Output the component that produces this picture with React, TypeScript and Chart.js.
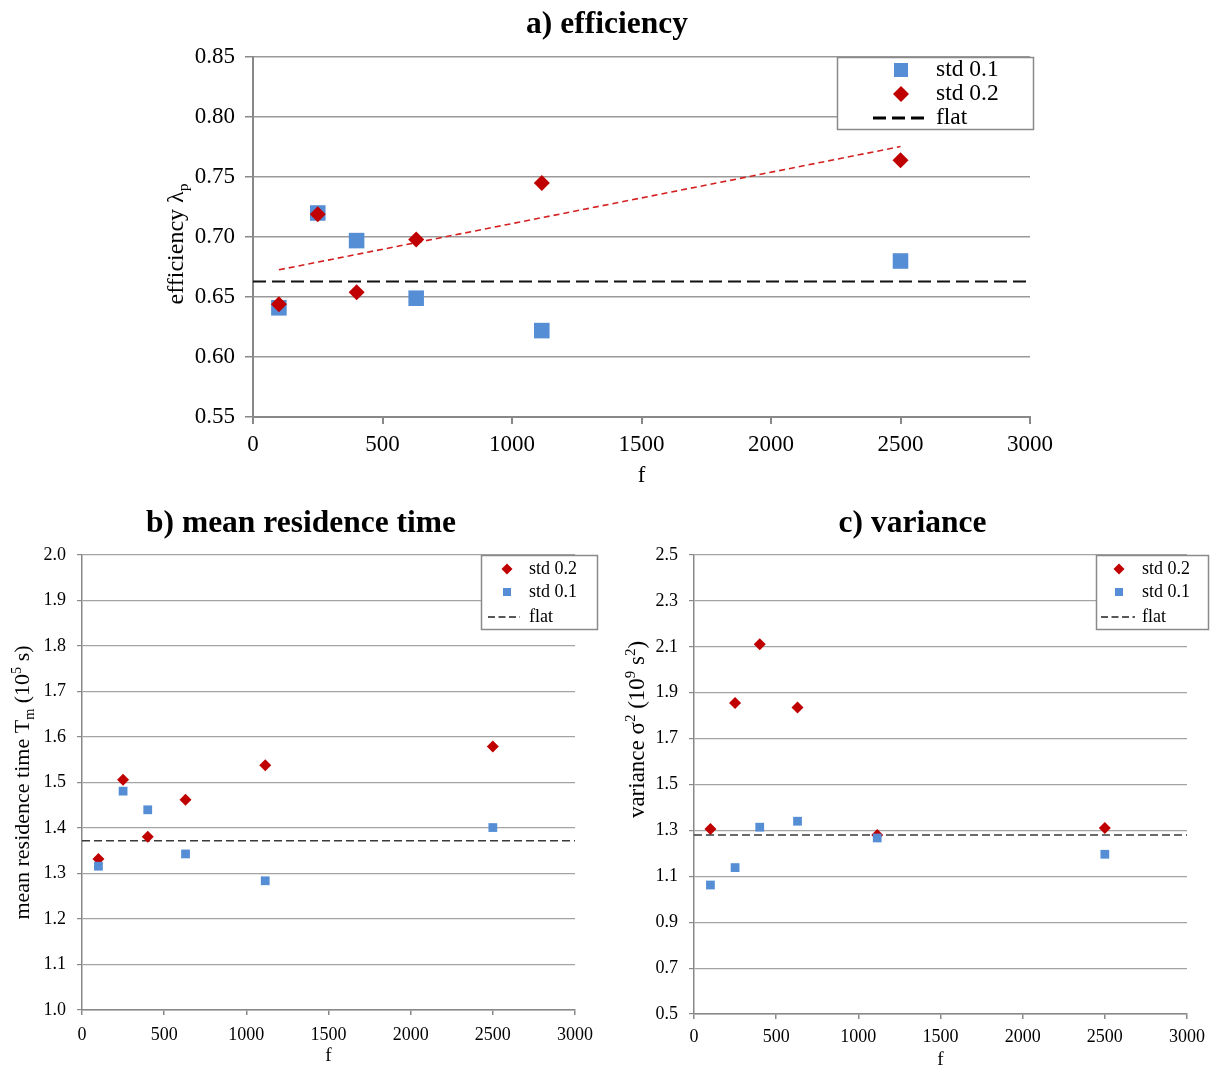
import React, { useEffect, useRef } from 'react';
import { Chart, registerables } from 'chart.js';
import type { ChartConfiguration, Plugin } from 'chart.js';

Chart.register(...registerables);

const SERIF = '"Liberation Serif", "Times New Roman", Times, serif';
const BLUE = '#558ED5';
const RED = '#C00000';
const TREND_RED = '#D42020';

// Flow rate f shared by all three panels
const fValues = [100, 250, 400, 630, 1115, 2500];
const fTicks = [0, 500, 1000, 1500, 2000, 2500, 3000];

// a) efficiency
const effStd01 = [0.641, 0.720, 0.697, 0.649, 0.622, 0.680];
const effStd02 = [0.644, 0.719, 0.654, 0.698, 0.745, 0.764];
const effFlat = 0.663;
const effTicks = [0.55, 0.6, 0.65, 0.7, 0.75, 0.8, 0.85];

// b) mean residence time (10^5 s)
const mrtStd02 = [1.332, 1.506, 1.381, 1.462, 1.538, 1.579];
const mrtStd01 = [1.316, 1.481, 1.440, 1.343, 1.284, 1.401];
const mrtFlat = 1.372;
const mrtTicks = [1.0, 1.1, 1.2, 1.3, 1.4, 1.5, 1.6, 1.7, 1.8, 1.9, 2.0];

// c) variance (10^9 s^2)
const varStd02 = [1.306, 1.855, 2.111, 1.835, 1.280, 1.310];
const varStd01 = [1.062, 1.138, 1.314, 1.340, 1.267, 1.196];
const varFlat = 1.280;
const varTicks = [0.5, 0.7, 0.9, 1.1, 1.3, 1.5, 1.7, 1.9, 2.1, 2.3, 2.5];

const pts = (xs: number[], ys: number[]) => xs.map((x, i) => ({ x, y: ys[i] }));

// least-squares straight line through a series
function linearFit(xs: number[], ys: number[]) {
  const n = xs.length;
  const mx = xs.reduce((a, b) => a + b, 0) / n;
  const my = ys.reduce((a, b) => a + b, 0) / n;
  let sxy = 0;
  let sxx = 0;
  for (let i = 0; i < n; i++) {
    sxy += (xs[i] - mx) * (ys[i] - my);
    sxx += (xs[i] - mx) * (xs[i] - mx);
  }
  const slope = sxy / sxx;
  return (x: number) => my + slope * (x - mx);
}

type Seg = { t: string; s?: 'sub' | 'sup' };

// rotated axis title with sub/superscripts
function richYTitle(segs: Seg[], x: number, yOffset: number, size: number): Plugin {
  return {
    id: 'richYTitle',
    afterDraw(chart) {
      const { ctx, chartArea } = chart;
      const cy = (chartArea.top + chartArea.bottom) / 2 + yOffset;
      ctx.save();
      ctx.translate(x, cy);
      ctx.rotate(-Math.PI / 2);
      const pieces = segs.map((sg) => {
        const fs = sg.s ? size * 0.65 : size;
        ctx.font = `${fs}px ${SERIF}`;
        return { ...sg, fs, w: ctx.measureText(sg.t).width };
      });
      const total = pieces.reduce((a, p) => a + p.w, 0);
      let cx = -total / 2;
      ctx.fillStyle = '#000';
      ctx.textBaseline = 'alphabetic';
      const base = size * 0.33;
      for (const p of pieces) {
        ctx.font = `${p.fs}px ${SERIF}`;
        const dy = p.s === 'sub' ? size * 0.2 : p.s === 'sup' ? -size * 0.38 : 0;
        ctx.fillText(p.t, cx, base + dy);
        cx += p.w;
      }
      ctx.restore();
    },
  };
}

type LegendItem = {
  kind: 'square' | 'diamond' | 'dash';
  label: string;
  color: string;
  size?: number;
  dash?: number[];
  lineWidth?: number;
  x0?: number;
  x1?: number;
};

type LegendSpec = {
  left: number; // offsets from chartArea.right
  right: number;
  height: number;
  markerX: number;
  textX: number;
  rows: number[]; // offsets from chartArea.top
  font: number;
  items: LegendItem[];
};

// boxed legend anchored to the top-right corner of the plot
function boxLegend(spec: LegendSpec): Plugin {
  return {
    id: 'boxLegend',
    afterDraw(chart) {
      const { ctx, chartArea } = chart;
      const R = chartArea.right;
      const T = chartArea.top;
      ctx.save();
      const bx = Math.round(R + spec.left) + 0.5;
      const bw = Math.round(spec.right - spec.left);
      const by = Math.round(T) + 0.5;
      ctx.fillStyle = '#fff';
      ctx.fillRect(bx, by, bw, spec.height);
      ctx.strokeStyle = '#8a8a8a';
      ctx.lineWidth = 1.5;
      ctx.strokeRect(bx, by, bw, spec.height);
      spec.items.forEach((it, i) => {
        const y = T + spec.rows[i];
        const mx = R + spec.markerX;
        const s = it.size ?? 10;
        ctx.setLineDash([]);
        if (it.kind === 'square') {
          ctx.fillStyle = it.color;
          ctx.fillRect(mx - s / 2, y - s / 2, s, s);
        } else if (it.kind === 'diamond') {
          ctx.fillStyle = it.color;
          ctx.beginPath();
          ctx.moveTo(mx, y - s / 2);
          ctx.lineTo(mx + s / 2, y);
          ctx.lineTo(mx, y + s / 2);
          ctx.lineTo(mx - s / 2, y);
          ctx.closePath();
          ctx.fill();
        } else {
          ctx.strokeStyle = it.color;
          ctx.lineWidth = it.lineWidth ?? 1.5;
          ctx.setLineDash(it.dash ?? [6, 3]);
          ctx.beginPath();
          ctx.moveTo(R + (it.x0 ?? -80), y);
          ctx.lineTo(R + (it.x1 ?? -50), y);
          ctx.stroke();
        }
        ctx.setLineDash([]);
        ctx.fillStyle = '#000';
        ctx.font = `${spec.font}px ${SERIF}`;
        ctx.textBaseline = 'middle';
        ctx.textAlign = 'left';
        ctx.fillText(it.label, R + spec.textX, y);
      });
      ctx.restore();
    },
  };
}

type AxisLook = {
  title: string;
  titleSize: number;
  titlePad: { top: number; bottom: number };
  yTicks: number[];
  digits: number;
  tickSize: number;
  yAxisWidth: number;
  xAxisHeight: number;
  padSide: number;
  yTickLen: number;
  yTickPad: number;
  xTickLen: number;
  xTickPad: number;
  fSize: number;
  fPadBottom: number;
  gridColor: string;
  gridWidth: number;
  axisColor: string;
  axisWidth: number;
};

function makeConfig(look: AxisLook, datasets: any[], plugins: Plugin[]): ChartConfiguration {
  const tickFont = { family: SERIF, size: look.tickSize };
  return {
    type: 'scatter',
    data: { datasets },
    plugins,
    options: {
      animation: false,
      responsive: false,
      maintainAspectRatio: false,
      devicePixelRatio: 1,
      layout: { padding: { left: look.padSide, right: look.padSide, top: 0, bottom: 0 } },
      plugins: {
        legend: { display: false },
        tooltip: { enabled: false },
        title: {
          display: true,
          text: look.title,
          color: '#000',
          font: { family: SERIF, size: look.titleSize, weight: 'bold', lineHeight: 1.2 },
          padding: look.titlePad,
        },
      },
      scales: {
        x: {
          type: 'linear',
          min: fTicks[0],
          max: fTicks[fTicks.length - 1],
          afterBuildTicks: (s: any) => {
            s.ticks = fTicks.map((v) => ({ value: v }));
          },
          afterFit: (s: any) => {
            s.height = look.xAxisHeight;
          },
          grid: {
            drawOnChartArea: false,
            drawTicks: true,
            tickLength: look.xTickLen,
            color: look.axisColor,
            lineWidth: look.axisWidth,
          },
          border: { display: true, color: look.axisColor, width: look.axisWidth },
          ticks: {
            font: tickFont,
            color: '#000',
            padding: look.xTickPad,
            maxRotation: 0,
            autoSkip: false,
            callback: (v: any) => String(v),
          },
          title: {
            display: true,
            text: 'f',
            color: '#000',
            font: { family: SERIF, size: look.fSize, lineHeight: 1.2 },
            padding: { top: 0, bottom: look.fPadBottom },
          },
        },
        y: {
          type: 'linear',
          min: look.yTicks[0],
          max: look.yTicks[look.yTicks.length - 1],
          afterBuildTicks: (s: any) => {
            s.ticks = look.yTicks.map((v) => ({ value: v }));
          },
          afterFit: (s: any) => {
            s.width = look.yAxisWidth;
          },
          grid: {
            drawTicks: true,
            tickLength: look.yTickLen,
            color: look.gridColor,
            lineWidth: look.gridWidth,
            tickColor: look.axisColor,
          },
          border: { display: true, color: look.axisColor, width: look.axisWidth },
          ticks: {
            font: tickFont,
            color: '#000',
            padding: look.yTickPad,
            autoSkip: false,
            callback: (v: any) => Number(v).toFixed(look.digits),
          },
        },
      },
    } as any,
  } as ChartConfiguration;
}

function buildEfficiency(): ChartConfiguration {
  const fit = linearFit(fValues, effStd02);
  const first = fValues[0];
  const last = fValues[fValues.length - 1];
  const datasets = [
    {
      label: 'std 0.2',
      data: pts(fValues, effStd02),
      pointStyle: 'rectRot',
      pointRadius: 8,
      backgroundColor: RED,
      pointBorderWidth: 0,
      order: 0,
    },
    {
      label: 'std 0.1',
      data: pts(fValues, effStd01),
      pointStyle: 'rect',
      pointRadius: 11,
      backgroundColor: BLUE,
      pointBorderWidth: 0,
      order: 1,
    },
    {
      label: 'trend',
      data: [
        { x: first, y: fit(first) },
        { x: last, y: fit(last) },
      ],
      showLine: true,
      borderColor: TREND_RED,
      borderWidth: 1.6,
      borderDash: [6, 4],
      pointRadius: 0,
      order: 2,
    },
    {
      label: 'flat',
      data: [
        { x: fTicks[0], y: effFlat },
        { x: fTicks[fTicks.length - 1], y: effFlat },
      ],
      showLine: true,
      borderColor: '#111',
      borderWidth: 2,
      borderDash: [13, 6],
      pointRadius: 0,
      order: 3,
    },
  ];
  const look: AxisLook = {
    title: 'a) efficiency',
    titleSize: 31.5,
    titlePad: { top: 6, bottom: 13.2 },
    yTicks: effTicks,
    digits: 2,
    tickSize: 23,
    yAxisWidth: 69,
    xAxisHeight: 73,
    padSide: 34,
    yTickLen: 8,
    yTickPad: 10,
    xTickLen: 7,
    xTickPad: 7,
    fSize: 23,
    fPadBottom: 0,
    gridColor: '#9a9a9a',
    gridWidth: 1.5,
    axisColor: '#888888',
    axisWidth: 2,
  };
  const legend = boxLegend({
    left: -193,
    right: 3,
    height: 72,
    markerX: -129,
    textX: -94,
    rows: [13, 37, 61],
    font: 23.5,
    items: [
      { kind: 'square', label: 'std 0.1', color: BLUE, size: 14 },
      { kind: 'diamond', label: 'std 0.2', color: RED, size: 16 },
      { kind: 'dash', label: 'flat', color: '#000', dash: [13, 6], lineWidth: 3, x0: -157, x1: -100 },
    ],
  });
  const yTitle = richYTitle([{ t: 'efficiency λ' }, { t: 'p', s: 'sub' }], 25, 7, 24);
  return makeConfig(look, datasets, [legend, yTitle]);
}

function bottomDatasets(std02: number[], std01: number[], flat: number) {
  return [
    {
      label: 'std 0.1',
      data: pts(fValues, std01),
      pointStyle: 'rect',
      pointRadius: 6.2,
      backgroundColor: BLUE,
      pointBorderWidth: 0,
      order: 0,
    },
    {
      label: 'std 0.2',
      data: pts(fValues, std02),
      pointStyle: 'rectRot',
      pointRadius: 6,
      backgroundColor: RED,
      pointBorderWidth: 0,
      order: 1,
    },
    {
      label: 'flat',
      data: [
        { x: fTicks[0], y: flat },
        { x: fTicks[fTicks.length - 1], y: flat },
      ],
      showLine: true,
      borderColor: '#3a3a3a',
      borderWidth: 1.5,
      borderDash: [8, 4],
      pointRadius: 0,
      order: 2,
    },
  ];
}

function bottomLegend(left: number, right: number, markerX: number, textX: number, x0: number, x1: number) {
  return boxLegend({
    left,
    right,
    height: 74,
    markerX,
    textX,
    rows: [14, 37, 62],
    font: 18,
    items: [
      { kind: 'diamond', label: 'std 0.2', color: RED, size: 11 },
      { kind: 'square', label: 'std 0.1', color: BLUE, size: 8 },
      { kind: 'dash', label: 'flat', color: '#222', dash: [7, 3.5], lineWidth: 1.5, x0, x1 },
    ],
  });
}

const bottomLook = {
  titleSize: 31.5,
  titlePad: { top: 15.1, bottom: 12.1 },
  digits: 1,
  tickSize: 18,
  yTickLen: 5,
  yTickPad: 11,
  xTickLen: 5,
  fSize: 19,
  gridColor: '#a3a3a3',
  gridWidth: 1.2,
  axisColor: '#888888',
  axisWidth: 1.5,
};

function buildResidence(): ChartConfiguration {
  const look: AxisLook = {
    ...bottomLook,
    title: 'b) mean residence time',
    yTicks: mrtTicks,
    yAxisWidth: 55,
    xAxisHeight: 62,
    padSide: 31,
    xTickPad: 9,
    fPadBottom: 4.6,
  };
  const yTitle = richYTitle(
    [{ t: 'mean residence time T' }, { t: 'm', s: 'sub' }, { t: ' (10' }, { t: '5', s: 'sup' }, { t: ' s)' }],
    26,
    0,
    22
  );
  return makeConfig(look, bottomDatasets(mrtStd02, mrtStd01, mrtFlat), [
    bottomLegend(-94, 22, -68, -46, -87, -55),
    yTitle,
  ]);
}

function buildVariance(): ChartConfiguration {
  const look: AxisLook = {
    ...bottomLook,
    title: 'c) variance',
    yTicks: varTicks,
    yAxisWidth: 56,
    xAxisHeight: 58,
    padSide: 29,
    xTickPad: 7,
    fPadBottom: 0.6,
  };
  const yTitle = richYTitle(
    [{ t: 'variance σ' }, { t: '2', s: 'sup' }, { t: ' (10' }, { t: '9', s: 'sup' }, { t: ' s' }, { t: '2', s: 'sup' }, { t: ')' }],
    27,
    -55,
    23
  );
  return makeConfig(look, bottomDatasets(varStd02, varStd01, varFlat), [
    bottomLegend(-91, 21, -68, -45, -86, -52),
    yTitle,
  ]);
}

function Panel(props: { left: number; top: number; width: number; height: number; build: () => ChartConfiguration }) {
  const ref = useRef<HTMLCanvasElement | null>(null);
  useEffect(() => {
    if (!ref.current) return;
    const chart = new Chart(ref.current, props.build());
    return () => chart.destroy();
  }, []);
  return (
    <canvas
      ref={ref}
      width={props.width}
      height={props.height}
      style={{ position: 'absolute', left: props.left, top: props.top, width: props.width, height: props.height }}
    />
  );
}

export default function App() {
  return (
    <div style={{ position: 'fixed', left: 0, top: 0, width: 1216, height: 1067, overflow: 'hidden', background: '#fff' }}>
      <Panel left={150} top={0} width={914} height={490} build={buildEfficiency} />
      <Panel left={-4} top={490} width={610} height={582} build={buildResidence} />
      <Panel left={609} top={490} width={607} height={582} build={buildVariance} />
    </div>
  );
}
